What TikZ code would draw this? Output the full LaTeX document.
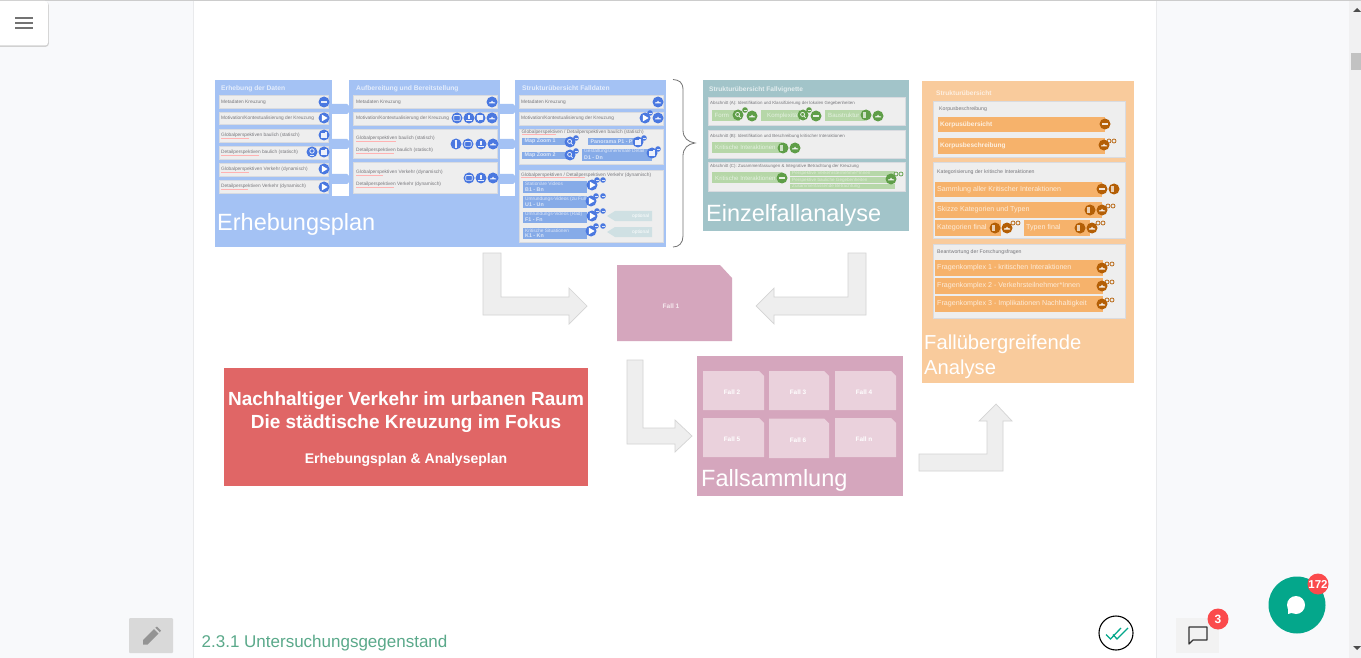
\documentclass[tikz,border=0pt]{standalone}
\usepackage{fontspec}
\setmainfont{Liberation Sans}
\definecolor{pagebg}{HTML}{F8F9FB}
\definecolor{divider}{HTML}{E9EAEC}
\definecolor{blueP}{HTML}{A4C2F4}
\definecolor{blueC}{HTML}{4A78E0}
\definecolor{blueB}{HTML}{86ABE8}
\definecolor{tealP}{HTML}{A2C4C9}
\definecolor{greenB}{HTML}{B6D7A8}
\definecolor{greenC}{HTML}{5F9E48}
\definecolor{orP}{HTML}{F9CB9C}
\definecolor{orB}{HTML}{F6B26B}
\definecolor{orC}{HTML}{B45F06}
\definecolor{pinkP}{HTML}{D5A6BD}
\definecolor{pinkL}{HTML}{EAD1DC}
\definecolor{redP}{HTML}{E06666}
\definecolor{rowg}{HTML}{EEEEEE}
\definecolor{rowb}{HTML}{D9DBE0}
\definecolor{txtg}{HTML}{77777C}
\definecolor{arrF}{HTML}{EEEEEE}
\definecolor{arrD}{HTML}{D4D4D4}
\definecolor{teal2}{HTML}{04A78B}
\definecolor{badge}{HTML}{FB4A4C}
\definecolor{optc}{HTML}{CFE0E3}
\definecolor{headc}{HTML}{5AA98A}
\newcounter{nn}
\newcommand{\Tx}[4][rowt]{\stepcounter{nn}\node[#1] (n\arabic{nn}) at (#2,#3) {#4};}
\newcommand{\Bx}[5]{\fill[#5] (#1,#2) rectangle (#3,#4);}
\newcommand{\Row}[4]{\draw[fill=rowg,draw=rowb,line width=.5pt] (#1,#2) rectangle (#3,#4);}
\newcommand{\Ul}[3]{\draw[red!30,line width=.35pt] (#1,#3) -- (#2,#3);}
\newcommand{\Cn}[3]{\fill[blueP] (#1,#3-5) -- (#2-5,#3-5) -- (#2,#3) -- (#2-5,#3+5) -- (#1,#3+5) -- cycle;}
% icons: colour icc, glyph white
\newcommand{\Disc}[3]{\fill[icc] (#1,#2) circle (#3);}
\newcommand{\icD}[2]{\Disc{#1}{#2}{5.5}\fill[white!85!icc] (#1-3,#2-.6) rectangle (#1+3,#2+.6);}
\newcommand{\icP}[2]{\Disc{#1}{#2}{5.5}\fill[white] (#1-2.2,#2-3.4) -- (#1+3.6,#2) -- (#1-2.2,#2+3.4) -- cycle;}
\newcommand{\icC}[2]{\Disc{#1}{#2}{5.5}\fill[white!90!icc] (#1-3,#2+1.5) -- (#1-3,#2+.4) -- (#1-1,#2+.2) -- (#1,#2-1.4) -- (#1+1.2,#2+.2) -- (#1+3,#2+.4) -- (#1+3,#2+1.5) -- cycle;}
\newcommand{\icI}[2]{\Disc{#1}{#2}{5.5}\fill[white!90!icc] (#1-.8,#2-4) rectangle (#1+.8,#2+4);}
\newcommand{\icM}[2]{\Disc{#1}{#2}{5.5}\draw[white!85!icc,line width=.7pt,rounded corners=.8pt] (#1-3.2,#2-2.4) rectangle (#1+3.2,#2+2.4);}
\newcommand{\icU}[2]{\Disc{#1}{#2}{5.5}\fill[white!90!icc] (#1-3.2,#2+1.6) rectangle (#1+3.2,#2+3);\fill[white!90!icc] (#1-1,#2-3) rectangle (#1+1,#2+1.2);}
\newcommand{\icS}[2]{\Disc{#1}{#2}{5.5}\fill[white!90!icc,rounded corners=.7pt] (#1-3.2,#2-2.8) rectangle (#1+3.2,#2+1.8);\fill[white!90!icc] (#1-2,#2+1.5) -- (#1-2,#2+3.4) -- (#1,#2+1.5) -- cycle;}
\newcommand{\icG}[2]{\Disc{#1}{#2}{5.5}\fill[white!90!icc] (#1-3,#2-1.5) rectangle (#1+2.6,#2+2.6);\fill[white!90!icc] (#1+1,#2-3) rectangle (#1+3,#2+2.6);}
\newcommand{\icO}[2]{\Disc{#1}{#2}{5.5}\draw[white!85!icc,line width=.8pt] (#1,#2-1) circle (2.2);\draw[white!85!icc,line width=.8pt] (#1-2.4,#2+3) -- (#1+2.4,#2+3);}
\newcommand{\icQ}[2]{\Disc{#1}{#2}{5.5}\draw[white!85!icc,line width=.8pt] (#1-.4,#2-.6) circle (2);\draw[white!85!icc,line width=.8pt] (#1+1,#2+1) -- (#1+2.6,#2+2.8);}
\newcommand{\icL}[2]{\Disc{#1}{#2}{5.5}\fill[white!70!icc] (#1-2.8,#2-3.4) rectangle (#1-.4,#2+3.4);}
\newcommand{\sm}[2]{\fill[icc] (#1,#2) circle (2.8);\fill[white!80!icc] (#1-1.5,#2-.4) rectangle (#1+1.5,#2+.4);}
\newcommand{\rings}[2]{\draw[icc,line width=.7pt] (#1,#2) circle (2);\draw[icc,line width=.7pt] (#1+5,#2) circle (2);}
\tikzset{
 rowt/.style={anchor=west,inner sep=0pt,text=txtg,font=\fontsize{4.8}{5.5}\selectfont},
 smallt/.style={anchor=west,inner sep=0pt,text=txtg,font=\fontsize{4.4}{5}\selectfont},
 smallo/.style={anchor=west,inner sep=0pt,text=txtg,font=\fontsize{5.2}{6}\selectfont},
 titleB/.style={anchor=west,inner sep=0pt,text=white!70!blueP,font=\fontsize{6.7}{7.5}\selectfont\bfseries},
 titleT/.style={anchor=west,inner sep=0pt,text=white!70!tealP,font=\fontsize{6.6}{7}\selectfont\bfseries},
 titleO/.style={anchor=west,inner sep=0pt,text=white!70!orP,font=\fontsize{6.6}{7}\selectfont\bfseries},
 big/.style={anchor=west,inner sep=0pt,text=white,font=\fontsize{23.5}{26}\selectfont},
 bigO/.style={anchor=west,inner sep=0pt,text=white,font=\fontsize{20.2}{24}\selectfont},
 barB/.style={anchor=west,inner sep=0pt,text=white!70!blueB,font=\fontsize{4.8}{5.5}\selectfont},
 barH/.style={anchor=west,inner sep=0pt,text=white!70!blueB,font=\fontsize{5.3}{6}\selectfont\bfseries},
 greenT/.style={anchor=west,inner sep=0pt,text=white!65!greenB,font=\fontsize{6.1}{7}\selectfont},
 greenS/.style={anchor=west,inner sep=0pt,text=white!55!greenB,font=\fontsize{4.6}{5}\selectfont},
 orT/.style={anchor=west,inner sep=0pt,text=white!75!orB,font=\fontsize{7.1}{8}\selectfont},
 orH/.style={anchor=west,inner sep=0pt,text=white!80!orB,font=\fontsize{6.5}{8}\selectfont\bfseries},
 fallt/.style={inner sep=0pt,text=white!75!pinkP,font=\fontsize{6.5}{7}\selectfont\bfseries},
 fallw/.style={inner sep=0pt,text=white,font=\fontsize{6.4}{7}\selectfont\bfseries},
 redH/.style={inner sep=0pt,text=white,font=\fontsize{19}{22}\selectfont\bfseries},
 redS/.style={inner sep=0pt,text=white,font=\fontsize{14}{16}\selectfont\bfseries},
 bigarrow/.style={fill=arrF,draw=arrD,line width=.7pt},
 optarrow/.style={fill=optc},
}
\begin{document}
\begin{tikzpicture}[x=1pt,y=-1pt]
\useasboundingbox (0,0) rectangle (1361,658);
% ---------- page
\fill[pagebg] (0,0) rectangle (1361,658);
\fill[white] (194,1) rectangle (1156,658);
\fill[divider] (192.5,0) rectangle (194,658);
\fill[divider] (1155.5,0) rectangle (1157,658);
\fill[rowg!70!pagebg] (1349,0) rectangle (1361,658);
\fill[black!20] (0,0) rectangle (1361,1);
\fill[black!24] (1351,53) rectangle (1361,70);
\fill[black!70] (1353,12) -- (1361,12) -- (1357,8) -- cycle;
\fill[black!70] (1353,646) -- (1361,646) -- (1357,650) -- cycle;
% menu button
\fill[black!18,rounded corners=3pt] (-3,2) rectangle (48.8,46.8);
\fill[white,rounded corners=3pt] (-3,1) rectangle (48,45.5);
\foreach \yy in {18,23,28}{\fill[black!55] (15,\yy-.8) rectangle (33,\yy+.8);}
% pencil button
\fill[black!15,rounded corners=1pt] (129,618) rectangle (173,653);
\fill[black!42] (143,644.5) -- (143,640) -- (154,629) -- (158.5,633.5) -- (147.5,644.5) -- cycle;
\fill[black!42] (155.3,627.7) -- (157,626.5) -- (161,630.5) -- (159.8,632.3) -- cycle;
\Tx[anchor=base west,inner sep=0pt,text=headc,font=\fontsize{17}{20}\selectfont]{201.5}{647}{2.3.1 Untersuchungsgegenstand}
% ---------- Erhebungsplan panel
\fill[blueP] (215,80) rectangle (332,196);
\fill[blueP] (349,80) rectangle (500,196);
\fill[blueP] (515,80) rectangle (666,196);
\fill[blueP] (215,196) rectangle (666,247);
\foreach \yc in {109,144,179}{
 \Cn{332}{352}{\yc}
 \Cn{500}{518}{\yc}
}
\Tx[titleB]{221}{88.5}{Erhebung der Daten}
\Tx[titleB]{356}{88.5}{Aufbereitung und Bereitstellung}
\Tx[titleB]{522}{88.5}{Strukturübersicht Falldaten}
\colorlet{icc}{blueC}
% column 1
\Row{219}{95}{328}{108}\Row{219}{112}{328}{124}\Row{219}{129}{328}{142}
\Row{219}{146}{328}{159}\Row{219}{163}{328}{176}\Row{219}{180}{328}{193}
\Tx{221}{102}{Metadaten Kreuzung}
\Tx{221}{118.5}{Motivation/Kontextualisierung der Kreuzung}
\Tx{221}{135.5}{Globalperspektiven baulich (statisch)}
\Tx{221}{152.5}{Detailperspektiven baulich (statisch)}
\Tx{221}{169.5}{Globalperspektiven Verkehr (dynamisch)}
\Tx{221}{186.5}{Detailperspektiven Verkehr (dynamisch)}
\Ul{221}{249}{138.5}\Ul{221}{259}{155.5}\Ul{221}{249}{172.5}\Ul{221}{248}{189.5}
\icD{324}{102}\icP{324}{118}\icG{324}{135}\icG{324}{152}\icO{312}{152}\icP{324}{169}\icP{324}{187}
% column 2
\Row{353}{95}{497}{108}\Row{353}{112}{497}{125}\Row{353}{129}{497}{158}\Row{353}{162}{497}{193}
\Tx{356}{102}{Metadaten Kreuzung}
\Tx{356}{118.5}{Motivation/Kontextualisierung der Kreuzung}
\Tx{356}{138}{Globalperspektiven baulich (statisch)}
\Tx{356}{150}{Detailperspektiven baulich (statisch)}
\Tx{356}{172.5}{Globalperspektiven Verkehr (dynamisch)}
\Tx{356}{184}{Detailperspektiven Verkehr (dynamisch)}
\Ul{356}{396}{141}\Ul{356}{394}{153}\Ul{356}{383}{175.5}\Ul{356}{394}{187}
\icC{492}{102}\icM{457}{118}\icU{469}{118}\icS{480}{118}\icC{492}{118}
\icI{456}{144}\icM{468}{144}\icU{481}{144}\icC{493}{144}
\icM{469}{178}\icU{481}{178}\icC{493}{178}
% column 3
\Row{519}{95}{663}{108}\Row{519}{112}{663}{125}\Row{519}{129}{663}{164}\Row{519}{170}{663}{242}
\Tx{521}{102}{Metadaten Kreuzung}
\Tx{521}{118.5}{Motivation/Kontextualisierung der Kreuzung}
\Tx{521.5}{132}{Globalperspektiven / Detailperspektiven baulich (statisch)}
\Tx{521}{175}{Globalperspektiven / Detailperspektiven Verkehr (dynamisch)}
\Ul{522}{556}{134.5}\Ul{521}{585}{177.5}
\icC{658}{102}\icP{645}{118}\sm{650}{113}\icC{658}{118}
\Bx{522}{138}{568}{145}{blueB}\Bx{588}{138}{638}{145}{blueB}
\Bx{522}{152}{568}{159}{blueB}\Bx{582}{149}{652}{161}{blueB}
\Tx[barH]{524.5}{141.5}{Map Zoom 1}
\Tx[barH]{524.5}{155.5}{Map Zoom 2}
\Tx[barH]{590.5}{141.5}{Panorama P1 - Pn}
\Tx[barB]{584}{151.7}{Gestaltungsmerkmale Detail}
\Tx[barH]{584}{157.7}{D1 - Dn}
\icQ{570}{142}\sm{576}{138}\icQ{570}{155}\sm{576}{151}
\icG{638}{142}\sm{644}{138}\icG{652}{153}\sm{658}{149}
\Bx{523}{181}{587}{193}{blueB}\Bx{523}{196}{587}{208}{blueB}
\Bx{523}{212}{587}{223}{blueB}\Bx{523}{228}{587}{239}{blueB}
\Tx[barB]{525}{183.5}{Stationäre Videos}\Tx[barH]{525}{189.5}{B1 - Bn}
\Tx[barB]{525}{199}{Umrundungs-Videos (zu Fuß)}\Tx[barH]{525}{204.8}{U1 - Un}
\Tx[barB]{525}{214.5}{Umrundungs-Videos (Rad)}\Tx[barH]{525}{220}{F1 - Fn}
\Tx[barB]{525}{230.5}{Kritische Situationen}\Tx[barH]{525}{236}{K1 - Kn}
\icP{592}{185}\sm{597}{180}\sm{603}{180}
\icP{591}{201}\sm{596}{196}\sm{603}{196}
\icP{592}{216}\sm{597}{211}\sm{603}{211}
\icP{591}{231}\sm{596}{226}\sm{603}{226}
\fill[optarrow] (607,216) -- (615,211) -- (652,211) -- (652,221) -- (615,221) -- cycle;
\fill[optarrow] (607,232) -- (615,227) -- (652,227) -- (652,237) -- (615,237) -- cycle;
\Tx[anchor=west,inner sep=0pt,text=white,font=\fontsize{4.8}{5.5}\selectfont]{632}{216}{optional}
\Tx[anchor=west,inner sep=0pt,text=white,font=\fontsize{4.8}{5.5}\selectfont]{632}{232}{optional}
\Tx[big]{217}{224}{Erhebungsplan}
% brace
\draw[black!55,line width=.8pt] (673,79.5) .. controls (679,80) and (683,82) .. (683,90) -- (683,130) .. controls (683,138) and (688,142) .. (695,143) .. controls (688,144) and (683,148) .. (683,156) -- (683,236) .. controls (683,243) and (679,247) .. (673,247);
% ---------- Einzelfallanalyse
\fill[tealP] (703,80) rectangle (909,231);
\Tx[titleT]{709}{89.5}{Strukturübersicht Fallvignette}
\Row{708}{97}{905}{125}\Row{708}{130}{905}{158}\Row{708}{162}{905}{191}
\Tx[smallt]{710}{103}{Abschnitt (A): Identifikation und Klassifizierung der lokalen Gegebenheiten}
\Tx[smallt]{710}{136}{Abschnitt (B): Identifikation und Beschreibung kritischer Interaktionen}
\Tx[smallt]{710}{166}{Abschnitt (C): Zusammenfassungen \&  Integrative Betrachtung der Kreuzung}
\colorlet{icc}{greenC}
\Bx{712}{110}{740}{121}{greenB}\Bx{761}{110}{800}{121}{greenB}\Bx{825}{110}{865}{121}{greenB}
\Tx[greenT]{714.5}{115.5}{Form}\Tx[greenT]{767}{115.5}{Komplexität}\Tx[greenT]{828}{115.5}{Baustruktur}
\icQ{738}{115}\sm{745}{110}\icC{752}{116}
\icQ{803}{115}\sm{809}{110}\icD{816}{116}
\icL{866}{115}\icC{878}{116}
\Bx{712}{142}{782}{153}{greenB}
\Tx[greenT]{715}{147.5}{Kritische Interaktionen}
\icL{783}{148}\icC{795}{148}
\Bx{712}{172}{782}{183}{greenB}
\Tx[greenT]{715}{178}{Kritische Interaktionen}
\icD{782}{178}
\Bx{790}{171}{895}{176.5}{greenB}\Bx{790}{177.5}{895}{183}{greenB}\Bx{790}{184}{895}{189.5}{greenB}
\Tx[greenS]{792}{173.7}{Perspektive Verkehrsteilnehmer*Innen}
\Tx[greenS]{792}{180}{Perspektive bauliche Gegebenheiten}
\Tx[greenS]{792}{186.7}{Zusammenfassende Betrachtung}
\icC{891}{179}\rings{896}{174}
\Tx[big]{706}{215}{Einzelfallanalyse}
% ---------- Fallübergreifende Analyse
\fill[orP] (922,81) rectangle (1134,383);
\Tx[titleO]{936}{93}{Strukturübersicht}
\Row{933}{101}{1125}{157}\Row{933}{162}{1125}{238}\Row{933}{244}{1125}{318}
\Tx[smallo]{939}{109}{Korpusbeschreibung}
\Tx[smallo]{937}{172}{Kategorisierung der kritische Interaktionen}
\Tx[smallo]{937}{252}{Beantwortung der Forschungsfragen}
\colorlet{icc}{orC}
\Bx{938}{117}{1105}{132}{orB}\Bx{938}{138}{1105}{154}{orB}
\Bx{935}{182}{1102}{197}{orB}\Bx{935}{202}{1102}{218}{orB}
\Bx{935}{220}{1001}{236}{orB}\Bx{1024}{220}{1090}{236}{orB}
\Bx{935}{260}{1103}{276}{orB}\Bx{935}{278}{1103}{294}{orB}\Bx{935}{296}{1103}{312}{orB}
\Tx[orH]{940}{124.5}{Korpusübersicht}
\Tx[orH]{940}{146}{Korpusbeschreibung}
\Tx[orT]{937}{189.5}{Sammlung aller Kritischer Interaktionen}
\Tx[orT]{937}{210}{Skizze Kategorien und Typen}
\Tx[orT]{937}{228}{Kategorien final}
\Tx[orT]{1026}{228}{Typen final}
\Tx[orT]{937}{268}{Fragenkomplex 1  - kritischen Interaktionen}
\Tx[orT]{937}{286}{Fragenkomplex 2  - Verkehrsteilnehmer*Innen}
\Tx[orT]{937}{304}{Fragenkomplex 3  - Implikationen Nachhaltigkeit}
\icD{1105}{124}\icC{1104}{145}\rings{1109}{141}
\icD{1102}{189}\icL{1114}{189}
\icL{1090}{210}\icC{1102}{210}\rings{1108}{206}
\icL{995}{228}\icC{1007}{228}\rings{1013}{223}
\icL{1080}{228}\icC{1092}{228}\rings{1098}{223}
\icC{1102}{268}\rings{1107}{264}
\icC{1102}{286}\rings{1107}{282}
\icC{1102}{304}\rings{1107}{300}
\Tx[bigO]{924}{344}{Fallübergreifende}
\Tx[bigO]{924}{369}{Analyse}
% ---------- big arrows
\draw[bigarrow] (483,253) -- (501,253) -- (501,297) -- (569,297) -- (569,288) -- (587,306) -- (569,324) -- (569,315) -- (483,315) -- cycle;
\draw[bigarrow] (866,253) -- (848,253) -- (848,297) -- (774,297) -- (774,288) -- (756,306) -- (774,324) -- (774,315) -- (866,315) -- cycle;
\draw[bigarrow] (627,360) -- (643,360) -- (643,428) -- (675,428) -- (675,420) -- (692,436) -- (675,452) -- (675,444) -- (627,444) -- cycle;
\draw[bigarrow] (919,454) -- (987,454) -- (987,421) -- (979,421) -- (996,404) -- (1012,421) -- (1003,421) -- (1003,471) -- (919,471) -- cycle;
% ---------- Fall 1
\fill[pinkP] (617,265) -- (720,265) -- (732,278) -- (732,341) -- (617,341) -- cycle;
\Tx[fallt]{671}{306.5}{Fall 1}
% ---------- Fallsammlung
\fill[pinkP] (697,356) rectangle (903,496);
\fill[pinkL] (703,371) -- (759,371) -- (764,376) -- (764,410) -- (703,410) -- cycle;
\fill[pinkL] (769,371) -- (824,371) -- (829,376) -- (829,410) -- (769,410) -- cycle;
\fill[pinkL] (835,371) -- (891,371) -- (896,376) -- (896,410) -- (835,410) -- cycle;
\fill[pinkL] (703,418) -- (759,418) -- (764,423) -- (764,457) -- (703,457) -- cycle;
\fill[pinkL] (769,418.5) -- (824,418.5) -- (829,423.5) -- (829,458) -- (769,458) -- cycle;
\fill[pinkL] (835,418) -- (891,418) -- (896,423) -- (896,457) -- (835,457) -- cycle;
\Tx[fallw]{732}{392.5}{Fall 2}\Tx[fallw]{798}{392.5}{Fall 3}\Tx[fallw]{864}{392.5}{Fall 4}
\Tx[fallw]{732}{439}{Fall 5}\Tx[fallw]{798}{440}{Fall 6}\Tx[fallw]{864}{439}{Fall n}
\Tx[big]{701}{480}{Fallsammlung}
% ---------- red box
\fill[redP] (224,368) rectangle (588,486);
\Tx[redH]{406}{401}{Nachhaltiger Verkehr im urbanen Raum}
\Tx[redH]{406}{424}{Die städtische Kreuzung im Fokus}
\Tx[redS]{406}{460}{Erhebungsplan \& Analyseplan}
% ---------- bottom-right widgets
\draw[black,line width=1.1pt] (1116,633) circle (17);
\draw[teal2,line width=1.3pt] (1106,634.5) -- (1110.5,639) -- (1121,628);
\draw[teal2,line width=1.3pt] (1113,634.5) -- (1117,639) -- (1128,628);
\fill[black!5] (1176,618) rectangle (1219,653);
\draw[black!80,line width=1.2pt,line join=round] (1189,627) -- (1207,627) -- (1207,640) -- (1193,640) -- (1189,644) -- cycle;
\fill[badge] (1218,619) circle (10.5);
\Tx[inner sep=0pt,text=white,font=\fontsize{12}{14}\selectfont\bfseries]{1218}{619}{3}
\fill[teal2] (1297,605) circle (28.5);
\fill[white] (1296,605) circle (9);
\fill[white] (1288,606) -- (1288,614) -- (1295,612) -- cycle;
\fill[badge] (1318,584) circle (10.5);
\Tx[inner sep=0pt,text=white,font=\fontsize{11.5}{14}\selectfont\bfseries]{1318}{584}{172}
\end{tikzpicture}
\end{document}
